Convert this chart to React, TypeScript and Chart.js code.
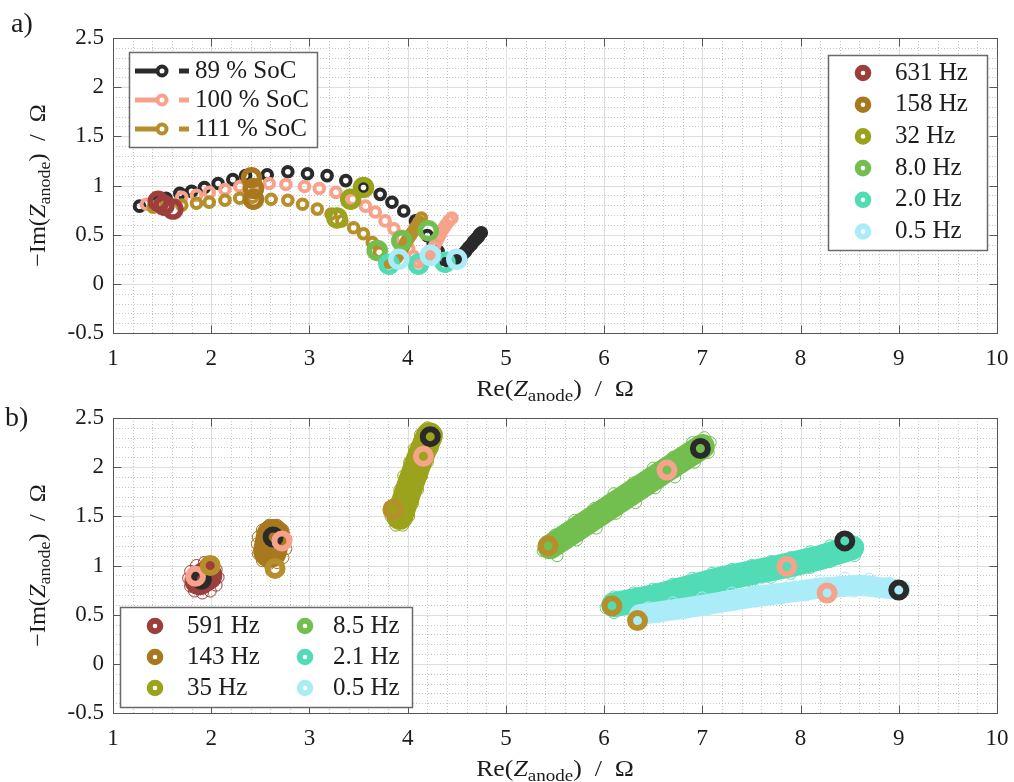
import React, { useEffect, useRef } from "react";
import { Chart, registerables } from "chart.js";

Chart.register(...registerables);

type Pt = [number, number];

// ---------- axes ----------
const X_TICKS = [1, 2, 3, 4, 5, 6, 7, 8, 9, 10];
const X_TICK_LABELS = ["1", "2", "3", "4", "5", "6", "7", "8", "9", "10"];
const Y_TICKS = [-0.5, 0, 0.5, 1, 1.5, 2, 2.5];
const Y_TICK_LABELS = ["-0.5", "0", "0.5", "1", "1.5", "2", "2.5"];

// ---------- panel a: spectra at three states of charge ----------
const SOC_LABELS = ["89 % SoC", "100 % SoC", "111 % SoC"];
const SOC_COLORS = ["#2a2a2a", "#f7a28b", "#b68f2a"];

const SPECTRUM_89: Pt[] = [
  [1.27, 0.79], [1.45, 0.84], [1.54, 0.87], [1.68, 0.92], [1.8, 0.94], [1.93, 0.98],
  [2.07, 1.02], [2.22, 1.06], [2.35, 1.1], [2.57, 1.11], [2.78, 1.14], [2.98, 1.12],
  [3.18, 1.1], [3.37, 1.05], [3.55, 0.98], [3.72, 0.91], [3.84, 0.83], [3.96, 0.74],
  [4.08, 0.64], [4.2, 0.49], [4.26, 0.41], [4.31, 0.33], [4.36, 0.25], [4.41, 0.23],
  [4.44, 0.24], [4.47, 0.25], [4.5, 0.26], [4.53, 0.28], [4.56, 0.3], [4.59, 0.33],
  [4.62, 0.37], [4.65, 0.4], [4.67, 0.43], [4.7, 0.46], [4.72, 0.48], [4.73, 0.5],
  [4.75, 0.52],
];
const SPECTRUM_100: Pt[] = [
  [1.34, 0.81], [1.51, 0.84], [1.7, 0.88], [1.85, 0.9], [1.98, 0.93], [2.14, 0.96],
  [2.29, 0.99], [2.44, 1.01], [2.59, 1.02], [2.76, 1.01], [2.95, 0.99], [3.1, 0.97],
  [3.27, 0.93], [3.44, 0.86], [3.57, 0.79], [3.67, 0.73], [3.77, 0.64], [3.86, 0.56],
  [3.94, 0.46], [4.01, 0.36], [4.06, 0.28], [4.11, 0.22], [4.15, 0.24], [4.17, 0.25],
  [4.19, 0.27], [4.22, 0.3], [4.24, 0.33], [4.27, 0.38], [4.29, 0.42], [4.31, 0.46],
  [4.33, 0.5], [4.35, 0.54], [4.37, 0.57], [4.39, 0.6], [4.42, 0.64], [4.45, 0.67],
];
const SPECTRUM_111: Pt[] = [
  [1.41, 0.78], [1.54, 0.79], [1.7, 0.8], [1.85, 0.82], [1.98, 0.83], [2.14, 0.85],
  [2.29, 0.87], [2.42, 0.88], [2.61, 0.86], [2.78, 0.85], [2.93, 0.81], [3.08, 0.76],
  [3.22, 0.71], [3.33, 0.64], [3.45, 0.57], [3.55, 0.51], [3.64, 0.42], [3.71, 0.32],
  [3.77, 0.22], [3.81, 0.22], [3.84, 0.23], [3.87, 0.25], [3.89, 0.27], [3.92, 0.31],
  [3.94, 0.35], [3.96, 0.38], [3.98, 0.42], [4.0, 0.45], [4.02, 0.48], [4.04, 0.51],
  [4.06, 0.54], [4.08, 0.57], [4.1, 0.6], [4.12, 0.63], [4.14, 0.67],
];

const FREQ_COLORS = ["#9c3f3c", "#a8781f", "#9aa31b", "#72bf50", "#52dcb6", "#abecf9"];
const FREQ_LABELS_A = ["631 Hz", "158 Hz", "32 Hz", "8.0 Hz", "2.0 Hz", "0.5 Hz"];
const FREQ_LABELS_B = ["591 Hz", "143 Hz", "35 Hz", "8.5 Hz", "2.1 Hz", "0.5 Hz"];

// selected frequencies on each spectrum (89 / 100 / 111 % SoC)
const MARK_A_631: Pt[] = [[1.46, 0.84], [1.52, 0.8], [1.61, 0.76]];
const MARK_A_158: Pt[] = [[2.41, 1.08], [2.43, 0.97], [2.43, 0.86]];
const MARK_A_32: Pt[] = [[3.55, 0.98], [3.42, 0.86], [3.28, 0.67]];
const MARK_A_8: Pt[] = [[4.21, 0.54], [3.94, 0.44], [3.69, 0.34]];
const MARK_A_2: Pt[] = [[4.38, 0.22], [4.11, 0.2], [3.81, 0.2]];
const MARK_A_05: Pt[] = [[4.5, 0.25], [4.23, 0.29], [3.91, 0.25]];

// ---------- panel b: drift of single frequencies ----------
const CLOUD_591_CORE: Pt[] = [[1.88, 0.85], [1.96, 0.9]];
const CLOUD_591_EDGE: Pt[] = [
  [1.77, 0.87], [1.79, 0.79], [1.83, 0.74], [1.91, 0.72], [1.99, 0.74], [2.05, 0.8],
  [2.07, 0.88], [2.05, 0.96], [2.0, 1.02], [1.93, 1.03], [1.85, 1.0], [1.79, 0.94],
];
const CLOUD_143_CORE: Pt[] = [[2.6, 1.15], [2.63, 1.3]];
const CLOUD_143_EDGE: Pt[] = [
  [2.47, 1.22], [2.48, 1.12], [2.52, 1.05], [2.59, 1.02], [2.67, 1.03], [2.73, 1.08],
  [2.76, 1.17], [2.76, 1.27], [2.73, 1.36], [2.67, 1.41], [2.59, 1.41], [2.52, 1.36],
  [2.48, 1.29],
];
const CLOUD_35_CORE: Pt[] = [[3.92, 1.5], [4.02, 1.8], [4.12, 2.08], [4.22, 2.32]];
const CLOUD_35_EDGE: Pt[] = [
  [3.83, 1.5], [3.87, 1.63], [3.92, 1.77], [3.96, 1.91], [4.02, 2.05], [4.07, 2.19],
  [4.13, 2.33], [4.2, 2.4], [4.29, 2.34], [4.25, 2.19], [4.2, 2.05], [4.14, 1.91],
  [4.1, 1.77], [4.05, 1.63], [4.01, 1.5], [3.95, 1.41], [3.88, 1.41],
];
const CLOUD_85_CORE: Pt[] = [[5.45, 1.19], [6.1, 1.62], [6.6, 1.95], [7.0, 2.21]];
const CLOUD_85_EDGE: Pt[] = [
  [5.38, 1.15], [5.5, 1.31], [5.7, 1.46], [5.9, 1.58], [6.1, 1.73], [6.3, 1.84],
  [6.5, 1.99], [6.7, 2.1], [6.9, 2.25], [7.02, 2.3], [7.08, 2.25], [7.06, 2.15],
  [6.92, 2.05], [6.72, 1.9], [6.52, 1.79], [6.32, 1.64], [6.12, 1.53], [5.92, 1.38],
  [5.72, 1.26], [5.52, 1.1],
];
const CLOUD_21_CORE: Pt[] = [[6.1, 0.6], [6.5, 0.68], [7.18, 0.86], [7.86, 1.0], [8.2, 1.08], [8.52, 1.18]];
const CLOUD_21_EDGE: Pt[] = [
  [6.02, 0.57], [6.1, 0.68], [6.3, 0.72], [6.5, 0.76], [6.7, 0.81], [6.9, 0.87],
  [7.1, 0.92], [7.3, 0.96], [7.5, 1.0], [7.7, 1.04], [7.9, 1.08], [8.1, 1.14],
  [8.3, 1.2], [8.45, 1.26], [8.58, 1.2], [8.55, 1.1], [8.3, 1.04], [8.1, 0.98],
  [7.9, 0.92], [7.7, 0.88], [7.5, 0.84], [7.3, 0.81], [7.1, 0.77], [6.9, 0.71],
  [6.7, 0.66], [6.5, 0.6], [6.3, 0.56], [6.1, 0.52],
];
const CLOUD_05_CORE: Pt[] = [[6.36, 0.5], [6.84, 0.57], [7.52, 0.68], [8.2, 0.77], [8.6, 0.8], [8.95, 0.76]];
const CLOUD_05_EDGE: Pt[] = [
  [6.32, 0.45], [6.55, 0.48], [6.8, 0.52], [7.05, 0.56], [7.3, 0.6], [7.55, 0.64],
  [7.8, 0.67], [8.05, 0.7], [8.3, 0.72], [8.55, 0.74], [8.8, 0.74], [9.05, 0.74],
  [9.05, 0.78], [8.9, 0.82], [8.7, 0.86], [8.45, 0.87], [8.2, 0.84], [7.9, 0.8],
  [7.6, 0.76], [7.3, 0.72], [7.0, 0.67], [6.7, 0.62], [6.45, 0.57],
];

// the same frequencies at 89 / 100 / 111 % SoC
const RING_B_89: Pt[] = [[1.9, 0.86], [2.63, 1.29], [4.23, 2.31], [6.98, 2.19], [8.45, 1.25], [9.0, 0.75]];
const RING_B_100: Pt[] = [[1.84, 0.89], [2.72, 1.25], [4.16, 2.11], [6.64, 1.97], [7.86, 0.99], [8.27, 0.72]];
const RING_B_111: Pt[] = [[1.99, 1.0], [2.65, 0.97], [3.85, 1.57], [5.43, 1.2], [6.08, 0.59], [6.34, 0.44]];

// ---------- styles ----------
const FONT = '"Liberation Serif", "Times New Roman", serif';
const INK = "#1c1c1c";
const BAND_WIDTHS = [30, 34, 27, 25, 25, 21];
const W = 1014;

const toXY = (d: Pt[]) => d.map(([x, y]) => ({ x, y }));

function pointSet(data: Pt[], color: string, radius: number, width: number) {
  return {
    data: toXY(data),
    showLine: false,
    borderColor: color,
    backgroundColor: "rgba(0,0,0,0)",
    pointBorderColor: color,
    pointBackgroundColor: "rgba(0,0,0,0)",
    pointRadius: radius,
    pointHoverRadius: radius,
    pointBorderWidth: width,
    pointHoverBorderWidth: width,
  };
}

function bandSet(data: Pt[], color: string, width: number) {
  return {
    data: toXY(data),
    showLine: true,
    borderColor: color,
    backgroundColor: color,
    borderWidth: width,
    borderCapStyle: "round",
    borderJoinStyle: "round",
    pointRadius: 0,
    pointHoverRadius: 0,
    tension: 0,
    fill: false,
  };
}

type Run = { t: string; size: number; italic?: boolean; dy?: number };

function drawRuns(ctx: CanvasRenderingContext2D, parts: Run[], cx: number, base: number, rotate: boolean, hs: number) {
  ctx.save();
  ctx.translate(cx, base);
  if (rotate) ctx.rotate(-Math.PI / 2);
  ctx.scale(hs, 1);
  ctx.textAlign = "left";
  ctx.textBaseline = "alphabetic";
  ctx.fillStyle = INK;
  const fontOf = (p: Run) => `${p.italic ? "italic " : ""}${p.size}px ${FONT}`;
  const widths = parts.map((p) => {
    ctx.font = fontOf(p);
    return ctx.measureText(p.t).width;
  });
  let x = -widths.reduce((a, b) => a + b, 0) / 2;
  parts.forEach((p, i) => {
    ctx.font = fontOf(p);
    ctx.fillText(p.t, x, p.dy ?? 0);
    x += widths[i];
  });
  ctx.restore();
}

function text(ctx: CanvasRenderingContext2D, s: string, x: number, y: number, size: number, align: CanvasTextAlign = "left") {
  ctx.font = `${size}px ${FONT}`;
  ctx.textAlign = align;
  ctx.textBaseline = "middle";
  ctx.fillStyle = INK;
  ctx.fillText(s, x, y);
}

function ring(ctx: CanvasRenderingContext2D, x: number, y: number, r: number, lw: number, color: string) {
  ctx.beginPath();
  ctx.arc(x, y, r, 0, Math.PI * 2);
  ctx.lineWidth = lw;
  ctx.strokeStyle = color;
  ctx.stroke();
}

function legendBox(ctx: CanvasRenderingContext2D, x: number, y: number, w: number, h: number) {
  ctx.fillStyle = "#ffffff";
  ctx.fillRect(x, y, w, h);
  ctx.strokeStyle = "#6a6a6a";
  ctx.lineWidth = 1.5;
  ctx.strokeRect(x + 0.5, y + 0.5, w, h);
}

type PanelSpec = {
  top: number;
  height: number;
  padTop: number;
  padBottom: number;
  letter: string;
  letterX: number;
  letterY: number;
  datasets: any[]; // listed bottom-most first
  legend: (ctx: CanvasRenderingContext2D) => void;
};

function axesPlugin(spec: PanelSpec) {
  return {
    id: "matlabAxes",
    beforeDatasetsDraw(chart: any) {
      const { ctx, chartArea: a, scales } = chart;
      const xs = scales.x;
      const ys = scales.y;
      ctx.save();
      ctx.fillStyle = "#ffffff";
      ctx.fillRect(a.left, a.top, a.right - a.left, a.bottom - a.top);
      // minor grid (dotted)
      ctx.lineWidth = 1;
      ctx.strokeStyle = "#c4c4c4";
      ctx.setLineDash([1, 2]);
      for (let i = 1; i < 45; i++) {
        if (i % 5 === 0) continue;
        const px = Math.round(xs.getPixelForValue(1 + i * 0.2)) + 0.5;
        ctx.beginPath();
        ctx.moveTo(px, a.top);
        ctx.lineTo(px, a.bottom);
        ctx.stroke();
      }
      for (let j = 1; j < 30; j++) {
        if (j % 5 === 0) continue;
        const py = Math.round(ys.getPixelForValue(-0.5 + j * 0.1)) + 0.5;
        ctx.beginPath();
        ctx.moveTo(a.left, py);
        ctx.lineTo(a.right, py);
        ctx.stroke();
      }
      // major grid
      ctx.setLineDash([]);
      ctx.strokeStyle = "#dedede";
      X_TICKS.forEach((v) => {
        const px = Math.round(xs.getPixelForValue(v)) + 0.5;
        ctx.beginPath();
        ctx.moveTo(px, a.top);
        ctx.lineTo(px, a.bottom);
        ctx.stroke();
      });
      Y_TICKS.forEach((v) => {
        const py = Math.round(ys.getPixelForValue(v)) + 0.5;
        ctx.beginPath();
        ctx.moveTo(a.left, py);
        ctx.lineTo(a.right, py);
        ctx.stroke();
      });
      // box and inward ticks
      ctx.strokeStyle = "#555555";
      ctx.lineWidth = 1;
      const L = Math.round(a.left) + 0.5;
      const R = Math.round(a.right) + 0.5;
      const T = Math.round(a.top) + 0.5;
      const B = Math.round(a.bottom) + 0.5;
      ctx.strokeRect(L, T, R - L, B - T);
      const tl = 8;
      ctx.beginPath();
      X_TICKS.forEach((v) => {
        const px = Math.round(xs.getPixelForValue(v)) + 0.5;
        ctx.moveTo(px, B);
        ctx.lineTo(px, B - tl);
        ctx.moveTo(px, T);
        ctx.lineTo(px, T + tl);
      });
      Y_TICKS.forEach((v) => {
        const py = Math.round(ys.getPixelForValue(v)) + 0.5;
        ctx.moveTo(L, py);
        ctx.lineTo(L + tl, py);
        ctx.moveTo(R, py);
        ctx.lineTo(R - tl, py);
      });
      ctx.stroke();
      ctx.restore();
    },
    afterDatasetsDraw(chart: any) {
      const { ctx } = chart;
      ctx.save();
      spec.legend(ctx);
      ctx.restore();
    },
    afterDraw(chart: any) {
      const { ctx, chartArea: a, scales } = chart;
      const xs = scales.x;
      const ys = scales.y;
      ctx.save();
      X_TICKS.forEach((v, i) => text(ctx, X_TICK_LABELS[i], xs.getPixelForValue(v), a.bottom + 26, 23, "center"));
      Y_TICKS.forEach((v, i) => text(ctx, Y_TICK_LABELS[i], a.left - 9, ys.getPixelForValue(v), 23, "right"));
      const cx = (a.left + a.right) / 2;
      drawRuns(
        ctx,
        [
          { t: "Re(", size: 23 },
          { t: "Z", size: 23, italic: true },
          { t: "anode", size: 17, dy: 5 },
          { t: ")  /  Ω", size: 23 },
        ],
        cx,
        a.bottom + 63,
        false,
        1.12
      );
      drawRuns(
        ctx,
        [
          { t: "−Im(", size: 23 },
          { t: "Z", size: 23, italic: true },
          { t: "anode", size: 17, dy: 5 },
          { t: ")  /  Ω", size: 23 },
        ],
        45,
        (a.top + a.bottom) / 2,
        true,
        1.06
      );
      ctx.font = `28px ${FONT}`;
      ctx.textAlign = "left";
      ctx.textBaseline = "alphabetic";
      ctx.fillStyle = INK;
      ctx.fillText(spec.letter, spec.letterX, spec.letterY);
      ctx.restore();
    },
  };
}

function Panel({ spec }: { spec: PanelSpec }) {
  const ref = useRef<HTMLCanvasElement>(null);
  useEffect(() => {
    // Chart.js paints the first dataset on top, so hand them over top-most first
    const ordered = spec.datasets.slice().reverse();
    const chart = new Chart(ref.current as HTMLCanvasElement, {
      type: "scatter",
      data: { datasets: ordered },
      options: {
        animation: false,
        responsive: false,
        devicePixelRatio: 1,
        events: [],
        layout: { padding: { left: 113, right: W - 997, top: spec.padTop, bottom: spec.padBottom } },
        plugins: { legend: { display: false }, tooltip: { enabled: false } },
        scales: {
          x: { type: "linear", display: false, min: X_TICKS[0], max: X_TICKS[X_TICKS.length - 1] },
          y: { type: "linear", display: false, min: Y_TICKS[0], max: Y_TICKS[Y_TICKS.length - 1] },
        },
      } as any,
      plugins: [axesPlugin(spec)],
    } as any);
    return () => chart.destroy();
  }, [spec]);
  return (
    <canvas
      ref={ref}
      width={W}
      height={spec.height}
      style={{ position: "absolute", left: 0, top: spec.top, width: W, height: spec.height }}
    />
  );
}

const MARKS_A = [MARK_A_631, MARK_A_158, MARK_A_32, MARK_A_8, MARK_A_2, MARK_A_05];
const CLOUD_CORES = [CLOUD_591_CORE, CLOUD_143_CORE, CLOUD_35_CORE, CLOUD_85_CORE, CLOUD_21_CORE, CLOUD_05_CORE];
const CLOUD_EDGES = [CLOUD_591_EDGE, CLOUD_143_EDGE, CLOUD_35_EDGE, CLOUD_85_EDGE, CLOUD_21_EDGE, CLOUD_05_EDGE];

const SPEC_A: PanelSpec = {
  top: 0,
  height: 410,
  padTop: 38,
  padBottom: 410 - 333,
  letter: "a)",
  letterX: 11,
  letterY: 32,
  datasets: [
    pointSet(SPECTRUM_89, SOC_COLORS[0], 4.8, 4),
    pointSet(SPECTRUM_100, SOC_COLORS[1], 4.8, 4),
    pointSet(SPECTRUM_111, SOC_COLORS[2], 4.8, 4),
    ...MARKS_A.map((m, i) => pointSet(m, FREQ_COLORS[i], 8, 5.5)),
  ],
  legend: (ctx) => {
    // state-of-charge legend
    legendBox(ctx, 129, 52, 188, 95);
    [71, 100, 129].forEach((y, i) => {
      ctx.strokeStyle = SOC_COLORS[i];
      ctx.lineWidth = 5;
      ctx.lineCap = "butt";
      ctx.beginPath();
      ctx.moveTo(135, y);
      ctx.lineTo(157, y);
      ctx.moveTo(179, y);
      ctx.lineTo(189, y);
      ctx.stroke();
      ring(ctx, 162, y, 4.5, 4, SOC_COLORS[i]);
      text(ctx, SOC_LABELS[i], 195, y, 25);
    });
    // frequency legend
    legendBox(ctx, 828, 55, 159, 195);
    FREQ_LABELS_A.forEach((s, i) => {
      const y = 73 + i * 31.7;
      ring(ctx, 863, y, 5.3, 6, FREQ_COLORS[i]);
      text(ctx, s, 895, y, 25);
    });
  },
};

const SPEC_B: PanelSpec = {
  top: 390,
  height: 392,
  padTop: 418 - 390,
  padBottom: 392 - (713 - 390),
  letter: "b)",
  letterX: 5,
  letterY: 36,
  datasets: [
    ...CLOUD_CORES.flatMap((core, i) => [
      bandSet(core, FREQ_COLORS[i], BAND_WIDTHS[i]),
      pointSet(CLOUD_EDGES[i], FREQ_COLORS[i], 6, 1),
    ]),
    pointSet(RING_B_89, SOC_COLORS[0], 7.5, 6),
    pointSet(RING_B_100, SOC_COLORS[1], 7.5, 6),
    pointSet(RING_B_111, SOC_COLORS[2], 7.5, 6),
  ],
  legend: (ctx) => {
    legendBox(ctx, 120, 217, 292, 100);
    FREQ_LABELS_B.forEach((s, i) => {
      const col = Math.floor(i / 3);
      const y = 236 + (i % 3) * 31;
      ring(ctx, col ? 305 : 155, y, 5.3, 6, FREQ_COLORS[i]);
      text(ctx, s, col ? 333 : 187, y, 25);
    });
  },
};

export default function App() {
  return (
    <div style={{ position: "absolute", left: 0, top: 0, width: W, height: 782, background: "#ffffff", overflow: "hidden" }}>
      <Panel spec={SPEC_A} />
      <Panel spec={SPEC_B} />
    </div>
  );
}
